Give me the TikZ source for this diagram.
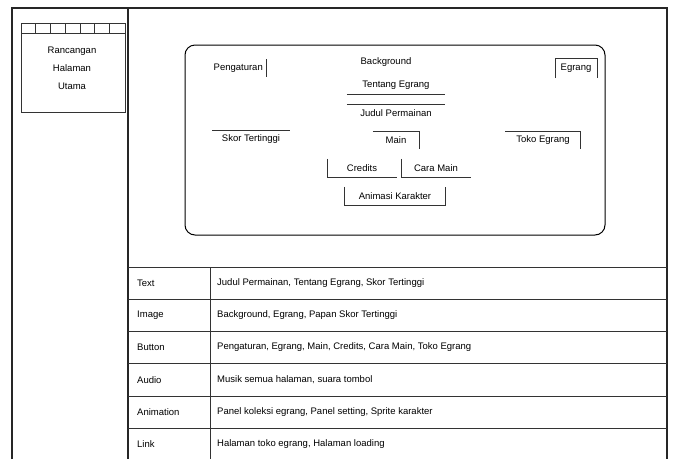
\documentclass[tikz,border=0pt]{standalone}
\usepackage{fontspec}
\setmainfont{Liberation Sans}
\begin{document}
\begin{tikzpicture}[x=1pt,y=-1pt,
  txt/.style={font=\fontsize{9.5}{11}\selectfont, inner sep=0pt},
  btn/.style={font=\fontsize{9.5}{11}\selectfont, inner sep=0pt, minimum height=18},
  frame/.style={line width=1.3pt, black!85},
  thin/.style={line width=0.6pt, black!80},
  mid/.style={line width=0.9pt, black!80}]
\useasboundingbox (0,0) rectangle (675,459);
\fill[white] (0,0) rectangle (675,459);
% outer frame
\draw[frame] (12,459) -- (12,8) -- (667,8) -- (667,459);
\draw[frame] (128,8) -- (128,459);
% left column sketch box
\draw[mid] (21,23) rectangle (125,112);
\draw[mid] (21,33) -- (125,33);
\foreach \i in {1,...,6} \draw[thin] (21+\i*14.7,23) -- (21+\i*14.7,33);
\node[txt, align=center, font=\fontsize{9.5}{18}\selectfont] (judulkiri) at (72,68) {Rancangan\\Halaman\\Utama};
% inner screen
\draw[line width=1pt, rounded corners=10] (185,45) rectangle (605,235);
\node[txt, anchor=east] (peng) at (263,68) {Pengaturan};
\draw[thin] (266,59) -- (266,77);
\node[txt] (bg) at (386,62) {Background};
\node[btn, minimum width=98] (tentang) at (396,85) {Tentang Egrang};
\draw[mid] (tentang.south west) -- (tentang.south east);
\node[btn, minimum width=98] (judul) at (396,113) {Judul Permainan};
\draw[thin] (judul.north west) -- (judul.north east);
\node[btn, minimum width=77] (skor) at (251,139) {Skor Tertinggi};
\draw[thin] (skor.north west) -- (skor.north east);
\node[btn, minimum width=46] (main) at (396,140) {Main};
\draw[thin] (main.north west) -- (main.north east) -- (main.south east);
\node[btn, minimum width=69] (credits) at (362,168) {Credits};
\draw[mid] (credits.north west) -- (credits.south west) -- (credits.south east);
\node[btn, minimum width=69] (cara) at (436,168) {Cara Main};
\draw[mid] (cara.north west) -- (cara.south west) -- (cara.south east);
\node[btn, minimum width=101] (anim) at (395,196) {Animasi Karakter};
\draw[mid] (anim.north west) -- (anim.south west) -- (anim.south east) -- (anim.north east);
\node[btn, minimum width=75] (toko) at (543,140) {Toko Egrang};
\draw[thin] (toko.north west) -- (toko.north east) -- (toko.south east);
\node[btn, minimum width=42, minimum height=20] (egrang) at (576,68) {Egrang};
\draw[thin] (egrang.south west) -- (egrang.north west) -- (egrang.north east) -- (egrang.south east);
% table
\foreach \y in {267,299,331,363,396,428} \draw[mid] (128,\y) -- (667,\y);
\draw[mid] (210,267) -- (210,459);
\node[txt, anchor=west] (l1) at (137,283) {Text};
\node[txt, anchor=west] (c1) at (217,283) {Judul Permainan, Tentang Egrang, Skor Tertinggi};
\node[txt, anchor=west] (l2) at (137,315) {Image};
\node[txt, anchor=west] (c2) at (217,315) {Background, Egrang, Papan Skor Tertinggi};
\node[txt, anchor=west] (l3) at (137,347) {Button};
\node[txt, anchor=west] (c3) at (217,347) {Pengaturan, Egrang, Main, Credits, Cara Main, Toko Egrang};
\node[txt, anchor=west] (l4) at (137,380) {Audio};
\node[txt, anchor=west] (c4) at (217,380) {Musik semua halaman, suara tombol};
\node[txt, anchor=west] (l5) at (137,412) {Animation};
\node[txt, anchor=west] (c5) at (217,412) {Panel koleksi egrang, Panel setting, Sprite karakter};
\node[txt, anchor=west] (l6) at (137,444) {Link};
\node[txt, anchor=west] (c6) at (217,444) {Halaman toko egrang, Halaman loading};
\end{tikzpicture}
\end{document}
